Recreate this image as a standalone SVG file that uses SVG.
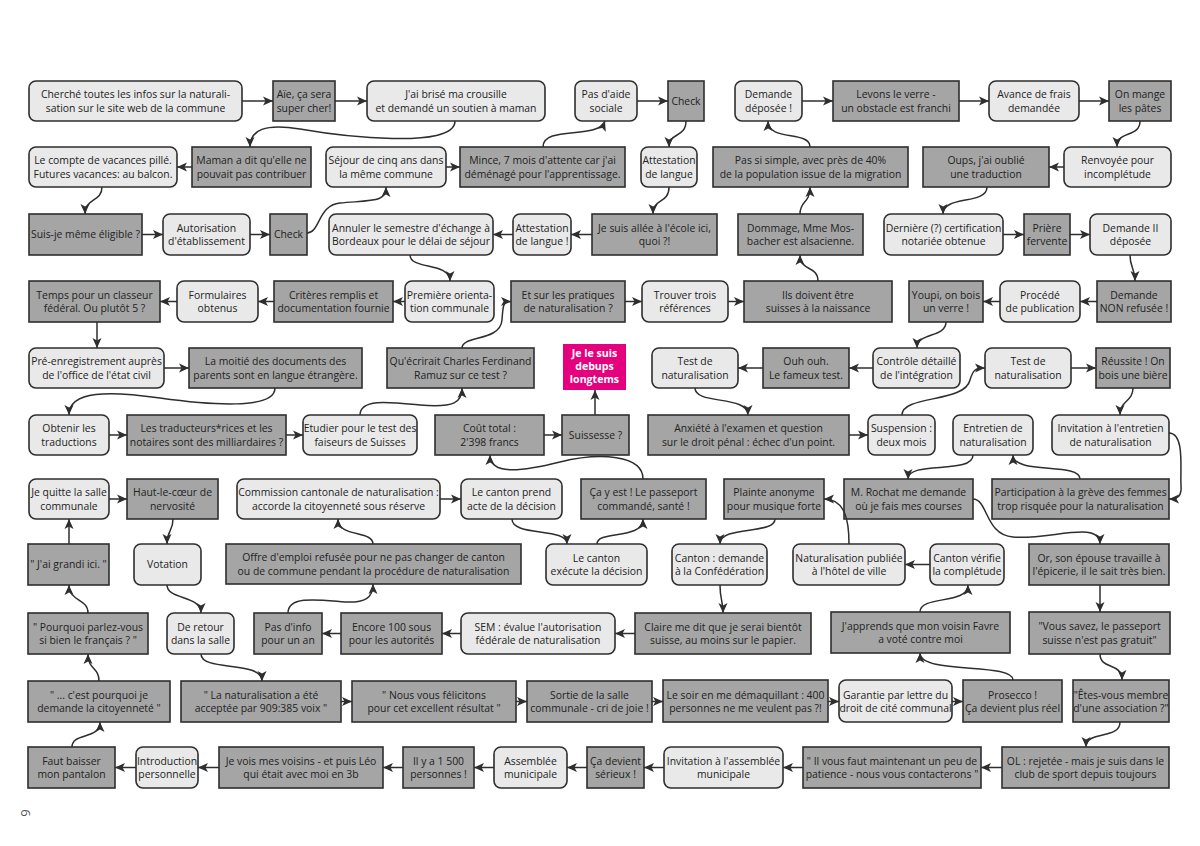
<svg xmlns="http://www.w3.org/2000/svg" width="1200" height="846" viewBox="0 0 1200 846">
<style>
.l{fill:#e9e9e9;stroke:#2e2e2e;stroke-width:1.6}
.d{fill:#a5a5a5;stroke:#2e2e2e;stroke-width:1.6}
.m{fill:#e5007e}
text{font-family:"Open Sans","DejaVu Sans",sans-serif;font-size:10.4px;fill:#222;text-anchor:middle}
text.w{fill:#fff;font-weight:bold;font-size:10.6px}
.c path{fill:none;stroke:#2e2e2e;stroke-width:1.5;marker-end:url(#ah)}
</style>
<defs>
<marker id="ah" viewBox="0 0 10 10" refX="10" refY="5" markerWidth="10" markerHeight="10" markerUnits="userSpaceOnUse" orient="auto"><path d="M0,0.5 L10,5 L0,9.5 L2.5,5 z" fill="#2e2e2e"/></marker>
</defs>
<rect width="1200" height="846" fill="#fff"/>
<g id="nodes">
<g id="n1"><rect class="l" x="29" y="81" width="213" height="40" rx="7"/><text><tspan x="135.5" y="98">Cherché toutes les infos sur la naturali-</tspan><tspan x="135.5" y="111.5">sation sur le site web de la commune</tspan></text></g>
<g id="n2"><rect class="d" x="273" y="81" width="62" height="40"/><text><tspan x="304" y="98">Aïe, ça sera</tspan><tspan x="304" y="111.5">super cher!</tspan></text></g>
<g id="n3"><rect class="l" x="367" y="81" width="178" height="40" rx="7"/><text><tspan x="456" y="98">J'ai brisé ma crousille</tspan><tspan x="456" y="111.5">et demandé un soutien à maman</tspan></text></g>
<g id="n4"><rect class="l" x="575" y="81" width="62" height="40" rx="7"/><text><tspan x="606" y="98">Pas d'aide</tspan><tspan x="606" y="111.5">sociale</tspan></text></g>
<g id="n5"><rect class="d" x="668" y="81" width="36" height="40"/><text x="686" y="104.7">Check</text></g>
<g id="n6"><rect class="l" x="735" y="81" width="67" height="40" rx="7"/><text><tspan x="768.5" y="98">Demande</tspan><tspan x="768.5" y="111.5">déposée !</tspan></text></g>
<g id="n7"><rect class="d" x="833" y="81" width="126" height="40"/><text><tspan x="896" y="98">Levons le verre -</tspan><tspan x="896" y="111.5">un obstacle est franchi</tspan></text></g>
<g id="n8"><rect class="l" x="989" y="81" width="90" height="40" rx="7"/><text><tspan x="1034" y="98">Avance de frais</tspan><tspan x="1034" y="111.5">demandée</tspan></text></g>
<g id="n9"><rect class="d" x="1109" y="81" width="62" height="40"/><text><tspan x="1140" y="98">On mange</tspan><tspan x="1140" y="111.5">les pâtes</tspan></text></g>

<g id="n10"><rect class="l" x="29" y="147" width="148" height="40" rx="7"/><text><tspan x="103" y="164">Le compte de vacances pillé.</tspan><tspan x="103" y="177.5">Futures vacances: au balcon.</tspan></text></g>
<g id="n11"><rect class="d" x="192" y="147" width="119" height="40"/><text><tspan x="251.5" y="164">Maman a dit qu'elle ne</tspan><tspan x="251.5" y="177.5">pouvait pas contribuer</tspan></text></g>
<g id="n12"><rect class="l" x="326" y="147" width="120" height="40" rx="7"/><text><tspan x="386" y="164">Séjour de cinq ans dans</tspan><tspan x="386" y="177.5">la même commune</tspan></text></g>
<g id="n13"><rect class="d" x="460" y="147" width="165" height="40"/><text><tspan x="542.5" y="164">Mince, 7 mois d'attente car j'ai</tspan><tspan x="542.5" y="177.5">déménagé pour l'apprentissage.</tspan></text></g>
<g id="n14"><rect class="l" x="641" y="147" width="56" height="40" rx="7"/><text><tspan x="669" y="164">Attestation</tspan><tspan x="669" y="177.5">de langue</tspan></text></g>
<g id="n15"><rect class="d" x="713" y="147" width="195" height="40"/><text><tspan x="810.5" y="164">Pas si simple, avec près de 40%</tspan><tspan x="810.5" y="177.5">de la population issue de la migration</tspan></text></g>
<g id="n16"><rect class="d" x="923" y="147" width="126" height="40"/><text><tspan x="986" y="164">Oups, j'ai oublié</tspan><tspan x="986" y="177.5">une traduction</tspan></text></g>
<g id="n17"><rect class="l" x="1064" y="147" width="107" height="40" rx="7"/><text><tspan x="1117.5" y="164">Renvoyée pour</tspan><tspan x="1117.5" y="177.5">incomplétude</tspan></text></g>

<g id="n18"><rect class="d" x="29" y="214" width="113" height="41"/><text x="85.5" y="238.2">Suis-je même éligible ?</text></g>
<g id="n19"><rect class="l" x="163" y="214" width="87" height="41" rx="7"/><text><tspan x="206.5" y="231.5">Autorisation</tspan><tspan x="206.5" y="245">d'établissement</tspan></text></g>
<g id="n20"><rect class="d" x="270" y="214" width="37" height="41"/><text x="288.5" y="238.2">Check</text></g>
<g id="n21"><rect class="l" x="329" y="214" width="164" height="41" rx="7"/><text><tspan x="411" y="231.5">Annuler le semestre d'échange à</tspan><tspan x="411" y="245">Bordeaux pour le délai de séjour</tspan></text></g>
<g id="n22"><rect class="l" x="513" y="214" width="58" height="41" rx="7"/><text><tspan x="542" y="231.5">Attestation</tspan><tspan x="542" y="245">de langue !</tspan></text></g>
<g id="n23"><rect class="d" x="592" y="214" width="125" height="41"/><text><tspan x="654.5" y="231.5">Je suis allée à l'école ici,</tspan><tspan x="654.5" y="245">quoi ?!</tspan></text></g>
<g id="n24"><rect class="d" x="738" y="214" width="125" height="41"/><text><tspan x="800.5" y="231.5">Dommage, Mme Mos-</tspan><tspan x="800.5" y="245">bacher est alsacienne.</tspan></text></g>
<g id="n25"><rect class="l" x="884" y="214" width="119" height="41" rx="7"/><text><tspan x="943.5" y="231.5">Dernière (?) certification</tspan><tspan x="943.5" y="245">notariée obtenue</tspan></text></g>
<g id="n26"><rect class="d" x="1024" y="214" width="46" height="41"/><text><tspan x="1047" y="231.5">Prière</tspan><tspan x="1047" y="245">fervente</tspan></text></g>
<g id="n27"><rect class="l" x="1090" y="214" width="81" height="41" rx="7"/><text><tspan x="1130.5" y="231.5">Demande II</tspan><tspan x="1130.5" y="245">déposée</tspan></text></g>

<g id="n28"><rect class="d" x="29" y="281" width="131" height="41"/><text><tspan x="94.5" y="298.5">Temps pour un classeur</tspan><tspan x="94.5" y="312">fédéral. Ou plutôt 5 ?</tspan></text></g>
<g id="n29"><rect class="l" x="177" y="281" width="81" height="41" rx="7"/><text><tspan x="217.5" y="298.5">Formulaires</tspan><tspan x="217.5" y="312">obtenus</tspan></text></g>
<g id="n30"><rect class="d" x="274" y="281" width="119" height="41"/><text><tspan x="333.5" y="298.5">Critères remplis et</tspan><tspan x="333.5" y="312">documentation fournie</tspan></text></g>
<g id="n31"><rect class="l" x="405" y="281" width="89" height="41" rx="7"/><text><tspan x="449.5" y="298.5">Première orienta-</tspan><tspan x="449.5" y="312">tion communale</tspan></text></g>
<g id="n32"><rect class="d" x="511" y="281" width="114" height="41"/><text><tspan x="568" y="298.5">Et sur les pratiques</tspan><tspan x="568" y="312">de naturalisation ?</tspan></text></g>
<g id="n33"><rect class="l" x="642" y="281" width="86" height="41" rx="7"/><text><tspan x="685" y="298.5">Trouver trois</tspan><tspan x="685" y="312">références</tspan></text></g>
<g id="n34"><rect class="d" x="744" y="281" width="148" height="41"/><text><tspan x="818" y="298.5">Ils doivent être</tspan><tspan x="818" y="312">suisses à la naissance</tspan></text></g>
<g id="n35"><rect class="d" x="909" y="281" width="74" height="41"/><text><tspan x="946" y="298.5">Youpi, on bois</tspan><tspan x="946" y="312">un verre !</tspan></text></g>
<g id="n36"><rect class="l" x="1000" y="281" width="80" height="41" rx="7"/><text><tspan x="1040" y="298.5">Procédé</tspan><tspan x="1040" y="312">de publication</tspan></text></g>
<g id="n37"><rect class="d" x="1097" y="281" width="74" height="41"/><text><tspan x="1134" y="298.5">Demande</tspan><tspan x="1134" y="312">NON refusée !</tspan></text></g>

<g id="n38"><rect class="l" x="29" y="348" width="135" height="40" rx="7"/><text><tspan x="96.5" y="365">Pré-enregistrement auprès</tspan><tspan x="96.5" y="378.5">de l'office de l'état civil</tspan></text></g>
<g id="n39"><rect class="d" x="189" y="348" width="173" height="40"/><text><tspan x="275.5" y="365">La moitié des documents des</tspan><tspan x="275.5" y="378.5">parents sont en langue étrangère.</tspan></text></g>
<g id="n40"><rect class="d" x="387" y="348" width="147" height="40"/><text><tspan x="460.5" y="365">Qu'écrirait Charles Ferdinand</tspan><tspan x="460.5" y="378.5">Ramuz sur ce test ?</tspan></text></g>
<g id="n41"><rect class="m" x="563" y="344" width="63" height="46"/><text class="w"><tspan x="594.5" y="357">Je le suis</tspan><tspan x="594.5" y="370">debups</tspan><tspan x="594.5" y="383">longtems</tspan></text></g>
<g id="n42"><rect class="l" x="652" y="348" width="86" height="40" rx="7"/><text><tspan x="695" y="365">Test de</tspan><tspan x="695" y="378.5">naturalisation</tspan></text></g>
<g id="n43"><rect class="d" x="763" y="348" width="86" height="40"/><text><tspan x="806" y="365">Ouh ouh.</tspan><tspan x="806" y="378.5">Le fameux test.</tspan></text></g>
<g id="n44"><rect class="l" x="873" y="348" width="87" height="40" rx="7"/><text><tspan x="916.5" y="365">Contrôle détaillé</tspan><tspan x="916.5" y="378.5">de l'intégration</tspan></text></g>
<g id="n45"><rect class="l" x="985" y="348" width="86" height="40" rx="7"/><text><tspan x="1028" y="365">Test de</tspan><tspan x="1028" y="378.5">naturalisation</tspan></text></g>
<g id="n46"><rect class="d" x="1096" y="348" width="74" height="40"/><text><tspan x="1133" y="365">Réussite ! On</tspan><tspan x="1133" y="378.5">bois une bière</tspan></text></g>

<g id="n47"><rect class="l" x="29" y="415" width="80" height="40" rx="7"/><text><tspan x="69" y="432">Obtenir les</tspan><tspan x="69" y="445.5">traductions</tspan></text></g>
<g id="n48"><rect class="d" x="127" y="415" width="159" height="40"/><text><tspan x="206.5" y="432">Les traducteurs*rices et les</tspan><tspan x="206.5" y="445.5">notaires sont des milliardaires ?</tspan></text></g>
<g id="n49"><rect class="l" x="303" y="415" width="114" height="40" rx="7"/><text><tspan x="360" y="432">Etudier pour le test des</tspan><tspan x="360" y="445.5">faiseurs de Suisses</tspan></text></g>
<g id="n50"><rect class="d" x="435" y="415" width="109" height="40"/><text><tspan x="489.5" y="432">Coût total :</tspan><tspan x="489.5" y="445.5">2'398 francs</tspan></text></g>
<g id="n51"><rect class="d" x="562" y="415" width="67" height="40"/><text x="595.5" y="438.7">Suissesse ?</text></g>
<g id="n52"><rect class="d" x="648" y="415" width="201" height="40"/><text><tspan x="748.5" y="432">Anxiété à l'examen et question</tspan><tspan x="748.5" y="445.5">sur le droit pénal : échec d'un point.</tspan></text></g>
<g id="n53"><rect class="l" x="868" y="415" width="67" height="40" rx="7"/><text><tspan x="901.5" y="432">Suspension :</tspan><tspan x="901.5" y="445.5">deux mois</tspan></text></g>
<g id="n54"><rect class="l" x="953" y="415" width="80" height="40" rx="7"/><text><tspan x="993" y="432">Entretien de</tspan><tspan x="993" y="445.5">naturalisation</tspan></text></g>
<g id="n55"><rect class="l" x="1052" y="415" width="117" height="40" rx="7"/><text><tspan x="1110.5" y="432">Invitation à l'entretien</tspan><tspan x="1110.5" y="445.5">de naturalisation</tspan></text></g>

<g id="n56"><rect class="l" x="29" y="479" width="80" height="40" rx="7"/><text><tspan x="69" y="496">Je quitte la salle</tspan><tspan x="69" y="509.5">communale</tspan></text></g>
<g id="n57"><rect class="d" x="127" y="479" width="91" height="40"/><text><tspan x="172.5" y="496">Haut-le-cœur de</tspan><tspan x="172.5" y="509.5">nervosité</tspan></text></g>
<g id="n58"><rect class="l" x="237" y="479" width="203" height="40" rx="7"/><text><tspan x="338.5" y="496">Commission cantonale de naturalisation :</tspan><tspan x="338.5" y="509.5">accorde la citoyenneté sous réserve</tspan></text></g>
<g id="n59"><rect class="l" x="461" y="479" width="101" height="40" rx="7"/><text><tspan x="511.5" y="496">Le canton prend</tspan><tspan x="511.5" y="509.5">acte de la décision</tspan></text></g>
<g id="n60"><rect class="d" x="581" y="479" width="125" height="40"/><text><tspan x="643.5" y="496">Ça y est ! Le passeport</tspan><tspan x="643.5" y="509.5">commandé, santé !</tspan></text></g>
<g id="n61"><rect class="d" x="724" y="479" width="100" height="40"/><text><tspan x="774" y="496">Plainte anonyme</tspan><tspan x="774" y="509.5">pour musique forte</tspan></text></g>
<g id="n62"><rect class="d" x="844" y="479" width="129" height="40"/><text><tspan x="908.5" y="496">M. Rochat me demande</tspan><tspan x="908.5" y="509.5">où je fais mes courses</tspan></text></g>
<g id="n63"><rect class="d" x="992" y="479" width="177" height="40"/><text><tspan x="1080.5" y="496">Participation à la grève des femmes</tspan><tspan x="1080.5" y="509.5">trop risquée pour la naturalisation</tspan></text></g>

<g id="n64"><rect class="d" x="28" y="544" width="81" height="41"/><text x="68.5" y="568.2">" J'ai grandi ici. "</text></g>
<g id="n65"><rect class="l" x="134" y="544" width="67" height="41" rx="7"/><text x="167.5" y="568.2">Votation</text></g>
<g id="n66"><rect class="d" x="226" y="544" width="295" height="40"/><text><tspan x="373.5" y="561">Offre d'emploi refusée pour ne pas changer de canton</tspan><tspan x="373.5" y="574.5">ou de commune pendant la procédure de naturalisation</tspan></text></g>
<g id="n67"><rect class="l" x="546" y="544" width="101" height="41" rx="7"/><text><tspan x="596.5" y="561.5">Le canton</tspan><tspan x="596.5" y="575">exécute la décision</tspan></text></g>
<g id="n68"><rect class="l" x="672" y="544" width="95" height="41" rx="7"/><text><tspan x="719.5" y="561.5">Canton : demande</tspan><tspan x="719.5" y="575">à la Confédération</tspan></text></g>
<g id="n69"><rect class="l" x="793" y="544" width="112" height="41" rx="7"/><text><tspan x="849" y="561.5">Naturalisation publiée</tspan><tspan x="849" y="575">à l'hôtel de ville</tspan></text></g>
<g id="n70"><rect class="l" x="930" y="544" width="74" height="41" rx="7"/><text><tspan x="967" y="561.5">Canton vérifie</tspan><tspan x="967" y="575">la complétude</tspan></text></g>
<g id="n71"><rect class="d" x="1029" y="544" width="140" height="41"/><text><tspan x="1099" y="561.5">Or, son épouse travaille à</tspan><tspan x="1099" y="575">l'épicerie, il le sait très bien.</tspan></text></g>

<g id="n72"><rect class="d" x="28" y="613" width="120" height="41"/><text><tspan x="88" y="630.5">" Pourquoi parlez-vous</tspan><tspan x="88" y="644">si bien le français ? "</tspan></text></g>
<g id="n73"><rect class="l" x="167" y="613" width="67" height="41" rx="7"/><text><tspan x="200.5" y="630.5">De retour</tspan><tspan x="200.5" y="644">dans la salle</tspan></text></g>
<g id="n74"><rect class="d" x="254" y="613" width="68" height="41"/><text><tspan x="288" y="630.5">Pas d'info</tspan><tspan x="288" y="644">pour un an</tspan></text></g>
<g id="n75"><rect class="d" x="341" y="613" width="101" height="41"/><text><tspan x="391.5" y="630.5">Encore 100 sous</tspan><tspan x="391.5" y="644">pour les autorités</tspan></text></g>
<g id="n76"><rect class="l" x="461" y="613" width="154" height="41" rx="7"/><text><tspan x="538" y="630.5">SEM : évalue l'autorisation</tspan><tspan x="538" y="644">fédérale de naturalisation</tspan></text></g>
<g id="n77"><rect class="d" x="635" y="613" width="176" height="41"/><text><tspan x="723" y="630.5">Claire me dit que je serai bientôt</tspan><tspan x="723" y="644">suisse, au moins sur le papier.</tspan></text></g>
<g id="n78"><rect class="d" x="831" y="612" width="179" height="41"/><text><tspan x="920.5" y="629.5">J'apprends que mon voisin Favre</tspan><tspan x="920.5" y="643">a voté contre moi</tspan></text></g>
<g id="n79"><rect class="d" x="1029" y="612" width="141" height="42"/><text><tspan x="1099.5" y="630">"Vous savez, le passeport</tspan><tspan x="1099.5" y="643.5">suisse n'est pas gratuit"</tspan></text></g>

<g id="n80"><rect class="d" x="28" y="681" width="142" height="41"/><text><tspan x="99" y="698.5">" ... c'est pourquoi je</tspan><tspan x="99" y="712">demande la citoyenneté "</tspan></text></g>
<g id="n81"><rect class="d" x="181" y="681" width="160" height="41"/><text><tspan x="261" y="698.5">" La naturalisation a été</tspan><tspan x="261" y="712">acceptée par 909:385 voix "</tspan></text></g>
<g id="n82"><rect class="d" x="352" y="681" width="164" height="41"/><text><tspan x="434" y="698.5">" Nous vous félicitons</tspan><tspan x="434" y="712">pour cet excellent résultat "</tspan></text></g>
<g id="n83"><rect class="d" x="527" y="681" width="125" height="41"/><text><tspan x="589.5" y="698.5">Sortie de la salle</tspan><tspan x="589.5" y="712">communale - cri de joie !</tspan></text></g>
<g id="n84"><rect class="d" x="663" y="680" width="165" height="42"/><text><tspan x="745.5" y="698.5">Le soir en me démaquillant : 400</tspan><tspan x="745.5" y="712">personnes ne me veulent pas ?!</tspan></text></g>
<g id="n85"><rect class="l" x="839" y="680" width="113" height="42" rx="7"/><text><tspan x="895.5" y="698.5">Garantie par lettre du</tspan><tspan x="895.5" y="712">droit de cité communal</tspan></text></g>
<g id="n86"><rect class="d" x="963" y="680" width="99" height="42"/><text><tspan x="1012.5" y="698.5">Prosecco !</tspan><tspan x="1012.5" y="712">Ça devient plus réel</tspan></text></g>
<g id="n87"><rect class="d" x="1073" y="680" width="96" height="42"/><text><tspan x="1121" y="698.5">"Êtes-vous membre</tspan><tspan x="1121" y="712">d'une association ?"</tspan></text></g>

<g id="n88"><rect class="d" x="28" y="747" width="87" height="41"/><text><tspan x="71.5" y="764.5">Faut baisser</tspan><tspan x="71.5" y="778">mon pantalon</tspan></text></g>
<g id="n89"><rect class="l" x="136" y="747" width="62" height="41" rx="7"/><text><tspan x="167" y="764.5">Introduction</tspan><tspan x="167" y="778">personnelle</tspan></text></g>
<g id="n90"><rect class="d" x="219" y="747" width="164" height="41"/><text><tspan x="301" y="764.5">Je vois mes voisins - et puis Léo</tspan><tspan x="301" y="778">qui était avec moi en 3b</tspan></text></g>
<g id="n91"><rect class="d" x="403" y="747" width="71" height="41"/><text><tspan x="438.5" y="764.5">Il y a 1 500</tspan><tspan x="438.5" y="778">personnes !</tspan></text></g>
<g id="n92"><rect class="l" x="494" y="747" width="73" height="41" rx="7"/><text><tspan x="530.5" y="764.5">Assemblée</tspan><tspan x="530.5" y="778">municipale</tspan></text></g>
<g id="n93"><rect class="d" x="587" y="747" width="57" height="41"/><text><tspan x="615.5" y="764.5">Ça devient</tspan><tspan x="615.5" y="778">sérieux !</tspan></text></g>
<g id="n94"><rect class="l" x="664" y="747" width="119" height="41" rx="7"/><text><tspan x="723.5" y="764.5">Invitation à l'assemblée</tspan><tspan x="723.5" y="778">municipale</tspan></text></g>
<g id="n95"><rect class="d" x="803" y="747" width="178" height="41"/><text><tspan x="892" y="764.5">" Il vous faut maintenant un peu de</tspan><tspan x="892" y="778">patience - nous vous contacterons "</tspan></text></g>
<g id="n96"><rect class="d" x="1002" y="747" width="167" height="41"/><text><tspan x="1085.5" y="764.5">OL : rejetée - mais je suis dans le</tspan><tspan x="1085.5" y="778">club de sport depuis toujours</tspan></text></g>
</g>

<g id="connectors" class="c">
<path d="M242,101 H273"/>
<path d="M335,101 H367"/>
<path d="M455,121 C455,150 340,136 300,129 C265,123 250,130 250,147"/>
<path d="M192,167 H177"/>
<path d="M102,187 C102,202 85,198 85,214"/>
<path d="M142,234.5 H163"/>
<path d="M250,234.5 H270"/>
<path d="M307,233 C320,233 318,205 340,203 C375,200 386,202 386,187"/>
<path d="M446,167 H460"/>
<path d="M543,147 C543,125 598,140 605,121"/>
<path d="M637,101 H668"/>
<path d="M686,121 C686,138 669,132 669,147"/>
<path d="M669,187 C669,204 653,198 653,214"/>
<path d="M592,234.5 H571"/>
<path d="M513,234.5 H493"/>
<path d="M410,255 C410,270 450,262 450,281"/>
<path d="M405,301.5 H393"/>
<path d="M274,301.5 H258"/>
<path d="M177,301.5 H160"/>
<path d="M97,322 V348"/>
<path d="M164,368 H189"/>
<path d="M275,388 C275,410 210,405 160,398 C110,391 69,390 69,415"/>
<path d="M109,435 H127"/>
<path d="M286,435 H303"/>
<path d="M360,415 C360,398 390,402 420,405 C455,408 462,402 462,388"/>
<path d="M462,348 C462,335 500,342 502,320 C503,305 503,301.5 511,301.5"/>
<path d="M625,301.5 H642"/>
<path d="M728,301.5 H744"/>
<path d="M818,281 C818,265 800,272 800,255"/>
<path d="M800,214 C800,200 810,204 810,187"/>
<path d="M810,147 C810,130 768,142 768,121"/>
<path d="M802,101 H833"/>
<path d="M959,101 H989"/>
<path d="M1079,101 H1109"/>
<path d="M1140,121 C1140,138 1117,130 1117,147"/>
<path d="M1064,167 H1049"/>
<path d="M987,187 C987,205 943,195 943,214"/>
<path d="M1003,234.5 H1024"/>
<path d="M1070,234.5 H1090"/>
<path d="M1130,255 C1130,268 1135,268 1135,281"/>
<path d="M1097,301.5 H1080"/>
<path d="M1000,301.5 H983"/>
<path d="M946,322 C946,338 917,332 917,348"/>
<path d="M873,368 H849"/>
<path d="M763,368 H738"/>
<path d="M695,388 C695,405 748,395 748,415"/>
<path d="M849,435 H868"/>
<path d="M902,415 C902,395 965,403 970,380 C973,370 975,368 985,368"/>
<path d="M1071,368 H1096"/>
<path d="M1133,388 C1133,402 1120,400 1120,415"/>
<path d="M1169,433 C1185,433 1180,470 1181,485 C1182,496 1178,499 1169,499"/>
<path d="M1080,479 C1080,462 1013,475 1013,455"/>
<path d="M973,455 C973,475 908,460 908,479"/>
<path d="M973,499 C988,499 985,535 1013,537 C1050,540 1100,520 1100,544"/>
<path d="M1100,585 V612"/>
<path d="M1100,654 C1100,670 1122,662 1122,680"/>
<path d="M1120,722 C1120,740 1086,730 1086,747"/>
<path d="M1002,767.5 H981"/>
<path d="M803,767.5 H783"/>
<path d="M664,767.5 H644"/>
<path d="M587,767.5 H567"/>
<path d="M494,767.5 H474"/>
<path d="M403,767.5 H383"/>
<path d="M219,767.5 H198"/>
<path d="M136,767.5 H115"/>
<path d="M72,747 C72,732 100,740 100,722"/>
<path d="M99,681 C99,667 88,670 88,654"/>
<path d="M88,613 C88,598 69,602 69,585"/>
<path d="M69,544 V519"/>
<path d="M109,499 H127"/>
<path d="M173,519 C173,532 167,530 167,544"/>
<path d="M167,585 C167,600 201,595 201,613"/>
<path d="M201,654 C201,672 262,660 262,681"/>
<path d="M341,701.5 H352"/>
<path d="M516,701.5 H527"/>
<path d="M652,701.5 H663"/>
<path d="M828,701.5 H839"/>
<path d="M952,701.5 H963"/>
<path d="M1013,680 C1013,662 920,675 920,653"/>
<path d="M920,612 C920,595 968,605 968,585"/>
<path d="M930,564.5 H905"/>
<path d="M849,544 C849,520 845,499 824,499"/>
<path d="M775,519 C775,535 720,525 720,544"/>
<path d="M720,585 C720,600 723,600 723,613"/>
<path d="M635,633.5 H615"/>
<path d="M461,633.5 H442"/>
<path d="M341,633.5 H322"/>
<path d="M288,613 C288,595 320,600 345,602 C365,603 373,598 373,584"/>
<path d="M373,544 C373,530 338,538 338,519"/>
<path d="M440,499 H461"/>
<path d="M512,519 C512,537 567,527 567,544"/>
<path d="M597,544 C597,530 643,540 643,519"/>
<path d="M643,479 C643,455 600,452 560,462 C520,472 490,475 490,455"/>
<path d="M544,435 H562"/>
<path d="M595,415 V390"/>
</g>
<text x="30" y="813" transform="rotate(-90 30 813)" style="font-size:13px;fill:#555">9</text>
</svg>
